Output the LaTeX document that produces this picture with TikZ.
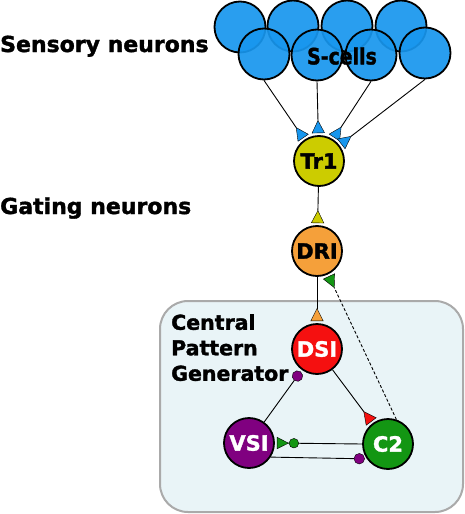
\documentclass[tikz,border=0pt]{standalone}
\usepackage{fontspec}
\usepackage{graphicx}
\setmainfont{DejaVu Sans}
\newfontfamily\dvb{DejaVu Sans Bold}[FakeBold=1.6]
\usetikzlibrary{arrows.meta}
\definecolor{sblue}{HTML}{1796EE}
\definecolor{tryel}{HTML}{CCCC00}
\definecolor{driorg}{HTML}{F5A03A}
\definecolor{dsired}{HTML}{F51010}
\definecolor{vsipur}{HTML}{800080}
\definecolor{ctwog}{HTML}{139613}
\definecolor{boxfill}{HTML}{E9F4F7}
\definecolor{boxline}{HTML}{AAAAAA}
\begin{document}
\begin{tikzpicture}[x=1pt,y=-1pt,
  neuron/.style={circle, draw=black, line width=1.8pt, minimum size=50pt, inner sep=0pt,
    font=\fontsize{21}{24}\dvb},
  scell/.style={circle, draw=black, line width=1.8pt, minimum size=51pt, inner sep=0pt,
    fill=sblue, fill opacity=0.92, draw opacity=1},
  lbl/.style={font=\fontsize{22}{26}\dvb, anchor=base west, inner sep=0pt},
  conn/.style={line width=0.9pt, shorten >=2pt},
  exc/.style={-{Triangle[reversed,length=13pt,width=13pt,color=black,fill=#1,line width=0.4pt]}},
  inh/.style={-{Circle[length=11pt,color=black,fill=#1,line width=0.4pt]}},
  excinh/.style={-{Circle[length=10pt,color=black,fill=#1,line width=0.4pt] Triangle[reversed,length=12pt,width=12pt,color=black,fill=#1,line width=0.4pt]}}
]
\useasboundingbox (0,0) rectangle (465,514);

% CPG box
\draw[fill=boxfill, draw=boxline, line width=2pt, rounded corners=28pt] (160,301) rectangle (463,512);

% labels
\node[lbl] (lsens) at (0,52) {Sensory neurons};
\node[lbl] (lgate) at (0,214) {Gating neurons};
\node[font=\fontsize{20.5}{25.5}\dvb, anchor=north west, align=left, inner sep=0pt] (lcpg) at (171,314)
  {Central\\Pattern\\Generator};

% S-cells
\node[scell] (s1) at (240,27) {};
\node[scell] (s2) at (293,26) {};
\node[scell] (s3) at (347,26) {};
\node[scell] (s4) at (401,26) {};
\node[scell] (sA) at (264,54) {};
\node[scell] (sB) at (317,55) {};
\node[scell] (sC) at (371,55) {};
\node[scell] (sD) at (425,53) {};
\node[font=\fontsize{22.5}{24}\dvb, inner sep=0pt] (scl) at (342,56) {\scalebox{0.84}[1]{S-cells}};

% neurons
\node[neuron, fill=tryel] (tr1) at (319,161) {Tr1};
\node[neuron, fill=driorg] (dri) at (317,251) {DRI};
\node[neuron, fill=dsired, text=white] (dsi) at (317,349) {DSI};
\node[neuron, fill=vsipur, text=white] (vsi) at (249,443) {VSI};
\node[neuron, fill=ctwog, text=white] (c2) at (388,444) {C2};

% connections
\draw[conn, exc=sblue] (sA.south) -- (tr1);
\draw[conn, exc=sblue] (sB.south) -- (tr1);
\draw[conn, exc=sblue] (sC.south) -- (tr1);
\draw[conn, exc=sblue] (sD.south) -- (tr1);
\draw[conn, exc=tryel] (tr1) -- (dri);
\draw[conn, exc=driorg] (dri) -- (dsi);
\draw[conn, exc=dsired] (dsi) -- (c2);
\draw[conn, exc=ctwog, dash pattern=on 3pt off 2pt] (c2.71) -- (dri);
\draw[conn, inh=vsipur] (vsi) -- (dsi);
\draw[conn, excinh=ctwog] (c2.west) -- (vsi.east);
\draw[conn, inh=vsipur] (vsi.-33) -- (c2.215);
\end{tikzpicture}
\end{document}
